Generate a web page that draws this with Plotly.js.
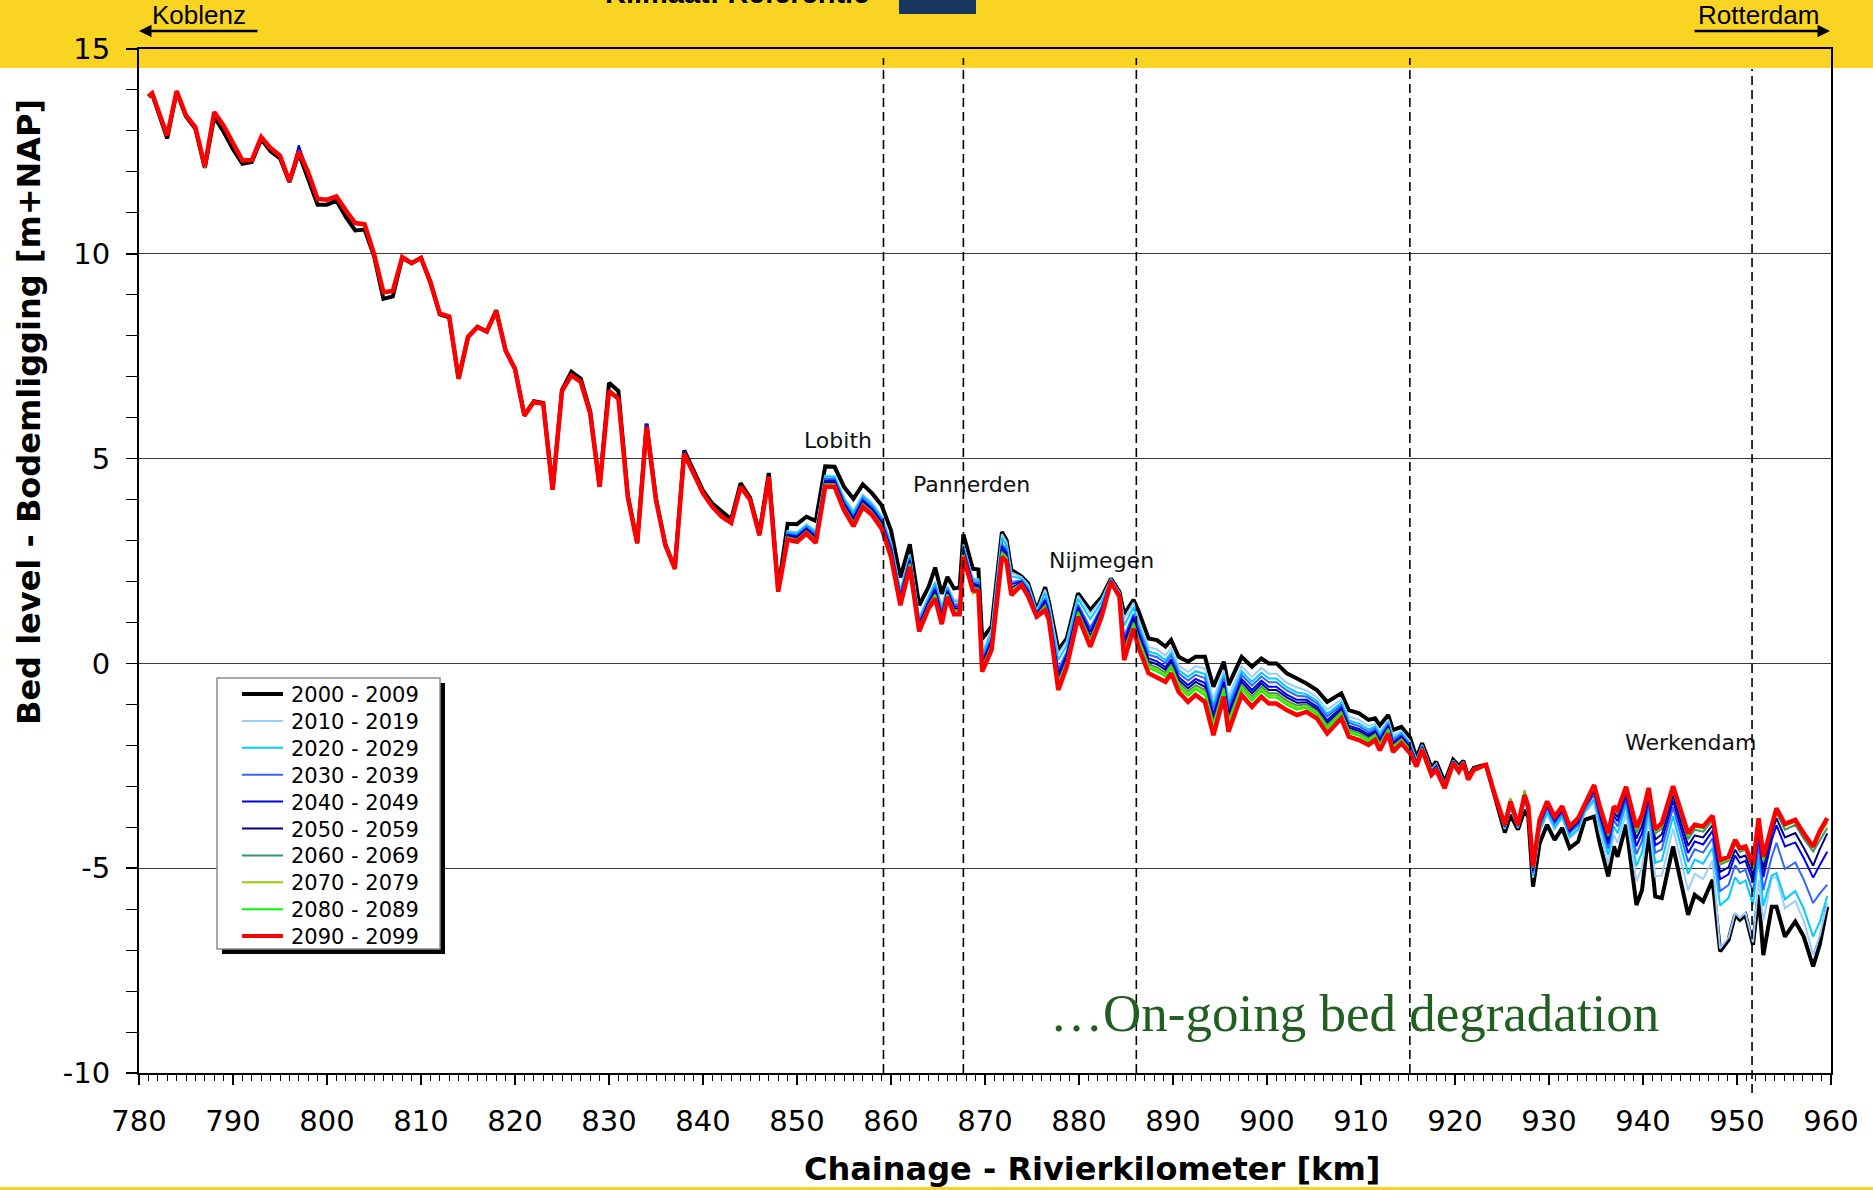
<!DOCTYPE html>
<html>
<head>
<meta charset="utf-8">
<script src="https://cdn.plot.ly/plotly-3.0.1.min.js"></script>
<style>
  html, body { margin: 0; padding: 0; background: #ffffff; }
  #chart { width: 1873px; height: 1190px; }
</style>
</head>
<body>
<div id="chart"></div>
<script>
// ---------------- DATA ----------------
const km = [781,781.4,783,784,785,786,787,788,789,790,791,792,793,794,795,796,797,798,799,800,801,802,803,804,805,806,807,808,809,810,811,812,813,814,815,816,817,818,819,820,821,822,823,824,825,
826,827,828,829,830,831,832,833,834,835,836,837,838,839,840,841,842,843,844,845,846,847,848,849,850,851,852,853,854,855,856,857,858,859,860,861,862,863,864,864.7,865.4,866,866.7,867.3,867.7,868.7,869.3,869.7,
870.7,871.8,872.3,872.8,873.9,874.6,875.5,876.4,876.8,877.8,878.7,879.9,881.2,882.4,883.4,884.3,884.8,885.8,
886.3,887.4,888.3,889.2,889.8,890.6,891.6,892.4,893.4,894.3,895.4,895.9,897.3,898.4,899.4,900.2,901.0,902.1,903.2,904.2,905.3,906.4,907.9,908.7,909.8,910.8,911.5,912.0,912.9,913.4,914.3,
915.2,915.9,916.5,917.5,918.0,918.9,919.8,920.4,920.9,921.4,922.0,922.8,923.3,924.3,
925.3,925.9,926.7,927.4,927.8,928.3,929.0,929.8,930.6,931.4,932.2,933.1,933.8,934.8,
935.4,936.3,936.9,937.3,938.2,939.3,939.9,940.6,941.3,942.0,943.2,944.8,945.5,946.4,947.4,
948.2,949.1,949.8,950.3,950.9,951.7,952.3,952.8,
953.7,954.2,955.1,956.2,957.1,958.1,958.8,959.6];

const bed2000 = [13.84,13.90,12.82,13.95,13.35,13.05,12.10,13.34,12.98,12.55,12.20,12.24,12.80,12.50,12.33,11.75,12.45,11.85,11.20,11.20,11.30,10.90,10.57,10.59,9.95,8.90,8.96,9.90,9.77,9.90,9.30,8.52,8.45,6.95,7.97,8.22,8.10,8.62,7.64,7.19,6.05,6.40,6.36,4.24,6.68,
7.12,6.95,6.15,4.31,6.85,6.65,4.10,2.95,5.85,4.02,2.90,2.33,5.20,4.70,4.22,3.90,3.70,3.52,4.40,4.05,3.18,4.65,1.80,3.41,3.40,3.58,3.48,4.81,4.80,4.31,4.02,4.37,4.15,3.86,3.25,2.10,2.91,1.42,1.87,2.34,1.70,2.11,1.83,1.85,3.15,2.31,2.29,0.60,
0.90,3.21,3.01,2.28,2.12,1.95,1.30,1.86,1.50,0.33,0.61,1.71,1.30,1.61,2.07,1.75,1.20,1.55,
1.30,0.61,0.57,0.41,0.57,0.16,0.04,0.16,0.16,-0.57,0.04,-0.53,0.16,-0.08,0.12,0.00,0.00,-0.24,-0.37,-0.49,-0.65,-0.94,-0.73,-1.14,-1.22,-1.38,-1.34,-1.51,-1.26,-1.63,-1.55,
-1.80,-2.30,-1.95,-2.55,-2.40,-2.90,-2.35,-2.50,-2.38,-2.78,-2.55,-2.50,-2.48,-3.30,
-4.13,-3.70,-4.06,-3.58,-3.75,-5.45,-4.39,-3.94,-4.31,-4.02,-4.51,-4.35,-3.82,-3.74,
-4.39,-5.20,-4.47,-4.72,-3.94,-5.90,-5.53,-4.10,-5.69,-5.73,-4.47,-6.14,-5.65,-5.81,-5.28,
-7.03,-6.75,-6.14,-6.26,-6.14,-6.87,-5.65,-7.12,
-5.94,-5.94,-6.67,-6.30,-6.67,-7.40,-6.87,-5.94];

const bed2010 = [13.84,13.92,12.89,13.97,13.38,13.09,12.13,13.46,13.13,12.70,12.28,12.29,12.85,12.58,12.40,11.77,12.50,11.99,11.34,11.32,11.40,11.06,10.75,10.72,10.00,9.06,9.09,9.92,9.77,9.90,9.31,8.54,8.47,6.95,7.97,8.21,8.11,8.60,7.64,7.19,6.05,6.38,6.34,4.24,6.65,
7.03,6.87,6.10,4.31,6.65,6.46,4.06,2.93,5.77,3.98,2.88,2.31,5.12,4.63,4.15,3.82,3.58,3.43,4.31,4.00,3.13,4.55,
1.78,3.23,3.21,3.40,3.24,4.58,4.58,4.05,3.72,4.12,3.91,3.60,2.96,1.79,2.66,1.13,1.63,2.00,1.37,1.89,1.55,1.56,2.90,2.08,2.05,0.24,
0.84,3.15,2.96,2.22,2.10,1.92,1.28,1.80,1.46,0.23,0.54,1.65,1.21,1.56,2.06,1.74,1.09,1.48,
1.08,0.40,0.34,0.19,0.37,-0.05,-0.21,-0.07,-0.12,-0.87,-0.17,-0.82,-0.07,-0.33,-0.11,-0.25,-0.25,-0.47,-0.59,-0.66,-0.82,-1.13,-0.88,-1.30,-1.38,-1.53,-1.47,-1.66,-1.37,-1.76,-1.65,
-1.90,-2.36,-1.99,-2.59,-2.45,-2.94,-2.37,-2.54,-2.40,-2.80,-2.56,-2.51,-2.48,-3.29,
-4.04,-3.55,-4.01,-3.41,-3.63,-5.23,-4.13,-3.68,-4.05,-3.78,-4.27,-4.09,-3.65,-3.39,
-4.12,-4.88,-4.18,-4.38,-3.66,-5.33,-4.98,-3.78,-5.20,-5.18,-4.03,-5.54,-5.14,-5.26,-4.81,
-6.96,-6.69,-6.09,-6.21,-6.09,-6.81,-5.28,-6.28,
-5.23,-5.22,-5.98,-5.80,-6.29,-7.11,-6.65,-5.85];

const bed2020 = [13.84,13.92,12.89,13.97,13.38,13.09,12.13,13.46,13.13,12.70,12.28,12.29,12.85,12.58,12.40,11.77,12.50,11.99,11.34,11.32,11.40,11.06,10.75,10.72,10.00,9.06,9.09,9.92,9.77,9.90,9.31,8.54,8.47,6.95,7.97,8.21,8.11,8.60,7.64,7.19,6.05,6.38,6.34,4.24,6.65,
7.03,6.87,6.10,4.31,6.65,6.46,4.06,2.93,5.77,3.98,2.88,2.31,5.12,4.63,4.15,3.82,3.58,3.43,4.31,4.00,3.13,4.55,
1.78,3.21,3.18,3.37,3.21,4.56,4.55,4.02,3.68,4.09,3.88,3.57,2.92,1.76,2.63,1.10,1.60,1.96,1.33,1.86,1.51,1.52,2.87,2.05,2.02,0.20,
0.76,3.06,2.88,2.13,2.07,1.87,1.26,1.72,1.39,0.08,0.44,1.57,1.08,1.49,2.05,1.72,0.92,1.37,
0.96,0.29,0.23,0.08,0.26,-0.16,-0.33,-0.19,-0.26,-1.02,-0.28,-0.96,-0.19,-0.45,-0.23,-0.37,-0.37,-0.58,-0.71,-0.75,-0.91,-1.23,-0.96,-1.39,-1.47,-1.61,-1.54,-1.74,-1.43,-1.83,-1.70,
-1.95,-2.38,-2.01,-2.61,-2.48,-2.96,-2.38,-2.55,-2.40,-2.80,-2.57,-2.51,-2.48,-3.28,
-4.03,-3.52,-3.99,-3.38,-3.61,-5.18,-4.08,-3.63,-4.00,-3.73,-4.22,-4.04,-3.62,-3.32,
-3.94,-4.67,-3.98,-4.15,-3.47,-4.95,-4.61,-3.57,-4.87,-4.81,-3.73,-5.14,-4.79,-4.89,-4.50,
-5.91,-5.73,-5.22,-5.38,-5.30,-5.89,-4.71,-5.92,
-5.18,-5.12,-5.76,-5.56,-5.99,-6.67,-6.32,-5.68];

const bed2030 = [13.84,13.92,12.89,13.97,13.38,13.09,12.13,13.46,13.13,12.70,12.28,12.29,12.85,12.58,12.40,11.77,12.60,11.99,11.34,11.32,11.40,11.06,10.75,10.72,10.00,9.06,9.09,9.92,9.77,9.90,9.31,8.54,8.47,6.95,7.97,8.21,8.11,8.60,7.64,7.19,6.05,6.38,6.34,4.24,6.65,
7.03,6.87,6.10,4.31,6.65,6.46,4.06,2.93,5.85,3.98,2.88,2.31,5.18,4.63,4.15,3.82,3.58,3.43,4.31,4.00,3.13,4.55,
1.77,3.17,3.13,3.33,3.15,4.50,4.50,3.96,3.60,4.03,3.82,3.51,2.85,1.68,2.57,1.02,1.54,1.87,1.24,1.81,1.44,1.45,2.81,1.99,1.96,0.10,
0.63,2.92,2.76,1.99,2.02,1.80,1.22,1.59,1.29,-0.14,0.28,1.44,0.87,1.38,2.03,1.69,0.66,1.21,
0.88,0.21,0.15,0.01,0.19,-0.24,-0.42,-0.28,-0.36,-1.12,-0.36,-1.07,-0.28,-0.54,-0.32,-0.46,-0.46,-0.66,-0.79,-0.81,-0.97,-1.30,-1.02,-1.45,-1.53,-1.67,-1.59,-1.80,-1.47,-1.88,-1.74,
-1.98,-2.40,-2.03,-2.63,-2.49,-2.97,-2.39,-2.57,-2.41,-2.81,-2.57,-2.51,-2.48,-3.28,
-4.00,-3.47,-3.98,-3.32,-3.57,-5.11,-3.99,-3.54,-3.91,-3.65,-4.14,-3.95,-3.56,-3.20,
-3.80,-4.52,-3.83,-3.98,-3.34,-4.66,-4.34,-3.41,-4.62,-4.54,-3.51,-4.85,-4.54,-4.62,-4.27,
-5.56,-5.41,-4.93,-5.10,-5.04,-5.58,-4.42,-5.54,
-4.72,-4.38,-5.02,-4.86,-5.28,-5.85,-5.62,-5.40];

const bed2040 = [13.84,13.92,12.89,13.97,13.38,13.09,12.13,13.46,13.13,12.70,12.28,12.29,12.85,12.58,12.40,11.77,12.65,11.99,11.34,11.32,11.40,11.06,10.75,10.72,10.00,9.06,9.09,9.92,9.77,9.90,9.31,8.54,8.47,6.95,7.97,8.21,8.11,8.60,7.64,7.19,6.05,6.38,6.34,4.24,6.65,
7.03,6.87,6.10,4.31,6.65,6.46,4.06,2.93,5.85,3.98,2.88,2.31,5.18,4.63,4.15,3.82,3.58,3.43,4.31,4.00,3.13,4.55,
1.77,3.14,3.10,3.29,3.10,4.46,4.46,3.91,3.55,3.98,3.78,3.46,2.79,1.62,2.52,0.97,1.50,1.81,1.18,1.77,1.39,1.39,2.76,1.95,1.91,0.04,
0.57,2.86,2.70,1.93,2.00,1.76,1.21,1.54,1.24,-0.24,0.21,1.38,0.78,1.34,2.02,1.68,0.55,1.14,
0.78,0.12,0.05,-0.09,0.10,-0.33,-0.53,-0.38,-0.48,-1.25,-0.45,-1.19,-0.38,-0.65,-0.42,-0.57,-0.57,-0.76,-0.89,-0.89,-1.05,-1.39,-1.08,-1.52,-1.60,-1.73,-1.65,-1.86,-1.52,-1.94,-1.78,
-2.03,-2.43,-2.04,-2.65,-2.52,-2.99,-2.40,-2.58,-2.41,-2.81,-2.58,-2.51,-2.48,-3.27,
-3.98,-3.44,-3.96,-3.28,-3.54,-5.06,-3.93,-3.48,-3.85,-3.60,-4.09,-3.89,-3.52,-3.12,
-3.71,-4.40,-3.73,-3.85,-3.23,-4.46,-4.14,-3.29,-4.44,-4.34,-3.35,-4.63,-4.35,-4.42,-4.09,
-5.27,-5.15,-4.69,-4.88,-4.82,-5.33,-4.17,-5.22,
-4.31,-3.95,-4.47,-4.37,-4.75,-5.23,-4.93,-4.60];

const bed2050 = [13.84,13.92,12.89,13.97,13.38,13.09,12.13,13.46,13.13,12.70,12.28,12.29,12.85,12.58,12.40,11.77,12.50,11.99,11.34,11.32,11.40,11.06,10.75,10.72,10.00,9.06,9.09,9.92,9.77,9.90,9.31,8.54,8.47,6.95,7.97,8.21,8.11,8.60,7.64,7.19,6.05,6.38,6.34,4.24,6.65,
7.03,6.87,6.10,4.31,6.65,6.46,4.06,2.93,5.77,3.98,2.88,2.31,5.12,4.63,4.15,3.82,3.58,3.43,4.31,4.00,3.13,4.55,
1.76,3.11,3.06,3.26,3.06,4.42,4.42,3.87,3.50,3.94,3.74,3.42,2.74,1.57,2.48,0.92,1.46,1.75,1.12,1.73,1.34,1.34,2.72,1.90,1.87,-0.02,
0.50,2.78,2.64,1.85,1.97,1.73,1.19,1.47,1.19,-0.36,0.13,1.31,0.68,1.28,2.01,1.67,0.42,1.06,
0.71,0.05,-0.02,-0.16,0.04,-0.40,-0.61,-0.45,-0.57,-1.35,-0.52,-1.28,-0.45,-0.73,-0.49,-0.65,-0.65,-0.83,-0.96,-0.95,-1.11,-1.45,-1.13,-1.57,-1.65,-1.78,-1.69,-1.91,-1.56,-1.98,-1.81,
-2.06,-2.45,-2.06,-2.66,-2.53,-3.00,-2.41,-2.59,-2.42,-2.82,-2.58,-2.51,-2.48,-3.27,
-3.96,-3.41,-3.96,-3.26,-3.52,-5.02,-3.89,-3.44,-3.81,-3.56,-4.05,-3.85,-3.50,-3.07,
-3.62,-4.31,-3.64,-3.75,-3.15,-4.28,-3.97,-3.20,-4.30,-4.17,-3.22,-4.45,-4.20,-4.25,-3.95,
-5.09,-4.98,-4.55,-4.74,-4.69,-5.17,-4.02,-5.03,
-4.14,-3.78,-4.25,-4.14,-4.50,-4.94,-4.54,-4.15];

const bed2060 = [13.84,13.92,12.89,13.97,13.38,13.09,12.13,13.46,13.13,12.70,12.28,12.29,12.85,12.58,12.40,11.77,12.50,11.99,11.34,11.32,11.40,11.06,10.75,10.72,10.00,9.06,9.09,9.92,9.77,9.90,9.31,8.54,8.47,6.95,7.97,8.21,8.11,8.60,7.64,7.19,6.05,6.38,6.34,4.24,6.65,
7.03,6.87,6.10,4.31,6.65,6.46,4.06,2.93,5.77,3.98,2.88,2.31,5.12,4.63,4.15,3.82,3.58,3.43,4.31,4.00,3.13,4.55,
1.76,3.08,3.03,3.23,3.02,4.38,4.38,3.83,3.45,3.90,3.70,3.38,2.70,1.52,2.44,0.88,1.42,1.69,1.07,1.69,1.29,1.30,2.68,1.87,1.83,-0.08,
0.46,2.73,2.60,1.80,1.96,1.70,1.18,1.42,1.16,-0.43,0.07,1.27,0.61,1.24,2.01,1.66,0.33,1.00,
0.64,-0.02,-0.10,-0.23,-0.03,-0.47,-0.69,-0.53,-0.65,-1.44,-0.59,-1.37,-0.53,-0.81,-0.57,-0.73,-0.73,-0.91,-1.03,-1.00,-1.16,-1.51,-1.18,-1.62,-1.70,-1.83,-1.73,-1.96,-1.59,-2.02,-1.85,
-2.09,-2.46,-2.07,-2.68,-2.55,-3.01,-2.42,-2.60,-2.42,-2.82,-2.59,-2.51,-2.48,-3.26,
-3.95,-3.30,-3.95,-3.10,-3.51,-4.99,-3.85,-3.40,-3.77,-3.52,-4.01,-3.81,-3.47,-3.02,
-3.55,-4.22,-3.56,-3.66,-3.08,-4.13,-3.83,-3.11,-4.16,-4.03,-3.10,-4.29,-4.06,-4.11,-3.83,
-4.91,-4.82,-4.40,-4.60,-4.55,-5.02,-3.87,-4.84,
-4.00,-3.64,-4.06,-3.94,-4.28,-4.59,-4.32,-4.02];

const bed2070 = [13.84,13.92,12.89,13.97,13.38,13.09,12.13,13.46,13.13,12.70,12.28,12.29,12.85,12.58,12.40,11.77,12.50,11.99,11.34,11.32,11.40,11.06,10.75,10.72,10.00,9.06,9.09,9.92,9.77,9.90,9.31,8.54,8.47,6.95,7.97,8.21,8.11,8.60,7.64,7.19,6.05,6.38,6.34,4.24,6.65,
7.03,6.87,6.10,4.31,6.65,6.46,4.06,2.93,5.77,3.98,2.88,2.31,5.12,4.63,4.15,3.82,3.58,3.43,4.31,4.00,3.13,4.55,
1.76,3.06,3.01,3.21,2.99,4.36,4.36,3.80,3.42,3.87,3.67,3.35,2.66,1.49,2.41,0.84,1.39,1.66,1.03,1.67,1.26,1.26,2.65,1.70,1.80,-0.12,
0.42,2.69,2.56,1.76,1.94,1.68,1.16,1.38,1.13,-0.50,0.02,1.23,0.54,1.21,2.00,1.65,0.25,0.95,
0.59,-0.07,-0.15,-0.28,-0.08,-0.52,-0.74,-0.58,-0.72,-1.51,-0.64,-1.44,-0.58,-0.86,-0.62,-0.78,-0.78,-0.96,-1.08,-1.04,-1.20,-1.56,-1.22,-1.66,-1.74,-1.87,-1.76,-2.00,-1.62,-2.05,-1.87,
-2.11,-2.48,-2.08,-2.69,-2.56,-3.02,-2.42,-2.61,-2.43,-2.83,-2.59,-2.51,-2.48,-3.26,
-3.95,-3.30,-3.94,-3.12,-3.50,-4.97,-3.84,-3.39,-3.76,-3.51,-4.00,-3.80,-3.46,-2.99,
-3.52,-4.18,-3.52,-3.61,-3.04,-4.06,-3.75,-3.07,-4.10,-3.95,-3.04,-4.21,-3.99,-4.03,-3.77,
-4.87,-4.78,-4.36,-4.56,-4.52,-4.98,-3.84,-4.79,
-3.94,-3.59,-3.97,-3.87,-4.20,-4.50,-4.18,-3.89];

const bed2080 = [13.84,13.92,12.89,13.97,13.38,13.09,12.10,13.46,13.13,12.70,12.28,12.29,12.85,12.58,12.40,11.77,12.50,11.99,11.34,11.32,11.40,11.06,10.75,10.72,10.00,9.06,9.09,9.92,9.77,9.90,9.31,8.54,8.47,6.95,7.97,8.21,8.11,8.60,7.64,7.19,6.05,6.38,6.34,4.24,6.65,
7.03,6.87,6.10,4.31,6.65,6.46,4.06,2.93,5.77,3.98,2.88,2.28,5.12,4.63,4.15,3.82,3.58,3.43,4.31,4.00,3.13,4.55,
1.75,3.04,3.00,3.19,2.97,4.34,4.34,3.77,3.39,3.85,3.65,3.32,2.64,1.46,2.39,0.82,1.37,1.63,1.00,1.65,1.24,1.24,2.63,1.82,1.78,-0.15,
0.39,2.66,2.53,1.73,1.93,1.66,1.16,1.36,1.10,-0.55,-0.01,1.20,0.50,1.19,2.00,1.64,0.19,0.92,
0.54,-0.11,-0.20,-0.32,-0.12,-0.56,-0.79,-0.63,-0.78,-1.57,-0.68,-1.50,-0.63,-0.91,-0.67,-0.83,-0.83,-1.01,-1.13,-1.08,-1.24,-1.59,-1.25,-1.69,-1.77,-1.90,-1.79,-2.03,-1.64,-2.08,-1.89,
-2.13,-2.49,-2.09,-2.69,-2.57,-3.03,-2.43,-2.62,-2.43,-2.83,-2.59,-2.51,-2.48,-3.26,
-3.94,-3.32,-3.94,-3.15,-3.49,-4.96,-3.83,-3.38,-3.75,-3.50,-3.99,-3.79,-3.45,-2.98,
-3.51,-4.17,-3.51,-3.60,-3.03,-4.04,-3.74,-3.06,-4.08,-3.94,-3.03,-4.19,-3.97,-4.02,-3.75,
-4.84,-4.76,-4.35,-4.54,-4.50,-4.96,-3.82,-4.77,
-3.92,-3.56,-3.95,-3.84,-4.18,-4.47,-4.13,-3.84];

const bed2090 = [13.84,13.92,12.89,13.97,13.38,13.09,12.13,13.46,13.13,12.70,12.28,12.29,12.85,12.58,12.40,11.77,12.50,11.99,11.34,11.32,11.40,11.06,10.75,10.72,10.00,9.06,9.09,9.92,9.77,9.90,9.31,8.54,8.47,6.95,7.97,8.21,8.11,8.60,7.64,7.19,6.05,6.38,6.34,4.24,6.65,
7.03,6.87,6.10,4.31,6.65,6.46,4.06,2.93,5.77,3.98,2.88,2.31,5.12,4.63,4.15,3.82,3.58,3.43,4.31,4.00,3.13,4.55,1.75,3.02,2.97,3.17,2.94,4.31,4.31,3.74,3.35,3.82,3.62,3.29,2.60,1.42,2.36,0.78,1.34,1.58,0.96,1.62,1.20,1.20,2.60,1.79,1.75,-0.20,
0.33,2.60,2.48,1.67,1.91,1.63,1.14,1.30,1.06,-0.65,-0.08,1.14,0.41,1.14,1.99,1.63,0.08,0.85,
0.41,-0.24,-0.33,-0.45,-0.24,-0.69,-0.94,-0.77,-0.94,-1.75,-0.81,-1.67,-0.77,-1.06,-0.81,-0.98,-0.98,-1.14,-1.26,-1.18,-1.34,-1.71,-1.34,-1.79,-1.87,-1.99,-1.87,-2.12,-1.71,-2.16,-1.95,
-2.19,-2.52,-2.11,-2.72,-2.60,-3.05,-2.44,-2.64,-2.44,-2.84,-2.60,-2.52,-2.48,-3.25,
-3.94,-3.37,-3.94,-3.21,-3.49,-4.96,-3.82,-3.37,-3.74,-3.49,-3.98,-3.78,-3.45,-2.97,
-3.49,-4.15,-3.49,-3.58,-3.01,-4.00,-3.70,-3.04,-4.05,-3.90,-3.00,-4.15,-3.94,-3.98,-3.72,
-4.80,-4.72,-4.31,-4.51,-4.47,-4.92,-3.78,-4.72,
-3.90,-3.54,-3.92,-3.82,-4.15,-4.47,-4.10,-3.78];

const seriesNames = ['2000 - 2009','2010 - 2019','2020 - 2029','2030 - 2039','2040 - 2049',
                     '2050 - 2059','2060 - 2069','2070 - 2079','2080 - 2089','2090 - 2099'];
const seriesValues = [bed2000, bed2010, bed2020, bed2030, bed2040, bed2050, bed2060, bed2070, bed2080, bed2090];
const seriesColors = ['#000000','#99ccff','#00ccff','#3366ff','#0000ff','#000080','#339966','#99cc00','#00ff00','#ff0000'];
const seriesWidths = [4, 2, 2, 2, 2, 2, 2, 2, 2, 4.5];

const markerKm = [859.2, 867.7, 886.1, 915.2, 951.6];          // dashed reference lines
const placeNames = ['Lobith', 'Pannerden', 'Nijmegen', 'Werkendam'];
const xTickVals = [780,790,800,810,820,830,840,850,860,870,880,890,900,910,920,930,940,950,960];
const yTickVals = [-10, -5, 0, 5, 10, 15];
const yTickText = ['-10', '-5', '0', '5', '10', '15'];

// ---------------- LAYOUT HELPERS (pixel -> paper) ----------------
const W = 1873, H = 1190, ML = 139, MR = 42, MT = 49, MB = 117;
const PW = W - ML - MR, PH = H - MT - MB;
const px = p => (p - ML) / PW;
const py = p => (H - MB - p) / PH;

const traces = seriesValues.map((vals, i) => ({
  type: 'scatter', mode: 'lines', x: km, y: vals, name: seriesNames[i],
  line: { color: seriesColors[i], width: seriesWidths[i] },
  hoverinfo: 'skip', showlegend: false
}));

const shapes = [
  // top yellow band
  { type: 'rect', xref: 'paper', yref: 'paper', x0: px(0), x1: px(W), y0: py(68), y1: py(-2),
    fillcolor: '#f9d423', line: { width: 0 }, layer: 'below' },
  // bottom yellow strip
  { type: 'rect', xref: 'paper', yref: 'paper', x0: px(0), x1: px(W), y0: py(H + 2), y1: py(1187),
    fillcolor: '#f9d423', line: { width: 0 }, layer: 'below' },
  // dark block next to the (cut-off) title
  { type: 'rect', xref: 'paper', yref: 'paper', x0: px(899), x1: px(976), y0: py(14), y1: py(-2),
    fillcolor: '#17375e', line: { width: 0 }, layer: 'above' }
];
markerKm.forEach((k, i) => {
  const last = i === markerKm.length - 1;
  shapes.push({ type: 'line', xref: 'x', yref: 'paper', x0: k, x1: k,
    y0: py(last ? 1093 : 1073), y1: py(last ? 69 : 58),
    line: { color: '#000', width: 1.6, dash: '9px,5px' }, layer: 'above' });
});

// ---------------- LEGEND (box with drop shadow, drawn in page pixels) ----------------
const LEG = { left: 217, top: 678, right: 440, bottom: 949, row0: 694, rowStep: 26.9, lineX0: 242, lineX1: 283, textX: 289 };
shapes.push(
  { type: 'rect', xref: 'paper', yref: 'paper', x0: px(LEG.left + 5), x1: px(LEG.right + 5),
    y0: py(LEG.bottom + 5), y1: py(LEG.top + 5), fillcolor: '#000', line: { width: 0 }, layer: 'above' },
  { type: 'rect', xref: 'paper', yref: 'paper', x0: px(LEG.left), x1: px(LEG.right),
    y0: py(LEG.bottom), y1: py(LEG.top), fillcolor: '#fff', line: { color: '#8c8c8c', width: 1.5 }, layer: 'above' }
);
seriesNames.forEach((name, i) => {
  const yc = LEG.row0 + i * LEG.rowStep;
  shapes.push({ type: 'line', xref: 'paper', yref: 'paper', x0: px(LEG.lineX0), x1: px(LEG.lineX1),
    y0: py(yc), y1: py(yc), line: { color: seriesColors[i], width: Math.min(seriesWidths[i], 4) }, layer: 'above' });
});

const placeFont = { family: 'DejaVu Sans, Verdana, sans-serif', size: 22, color: '#111' };
const placePos = [[838, 440], [971, 484], [1101, 560], [1690, 742]];
const annotations = placeNames.map((t, i) => ({
  text: t, xref: 'paper', yref: 'paper', x: px(placePos[i][0]), y: py(placePos[i][1]),
  xanchor: 'center', yanchor: 'middle', showarrow: false, font: placeFont
}));
seriesNames.forEach((name, i) => {
  annotations.push({ text: name, xref: 'paper', yref: 'paper', x: px(LEG.textX), y: py(LEG.row0 + i * LEG.rowStep + 1),
    xanchor: 'left', yanchor: 'middle', showarrow: false,
    font: { family: 'DejaVu Sans, Verdana, sans-serif', size: 21, color: '#000' } });
});
const axisTitleFont = { family: 'DejaVu Sans, Verdana, sans-serif', size: 32, color: '#000', weight: 'bold' };
annotations.push(
  { text: '<b>Chainage - Rivierkilometer [km]</b>', xref: 'paper', yref: 'paper', x: px(1092), y: py(1169),
    xanchor: 'center', yanchor: 'middle', showarrow: false, font: axisTitleFont },
  { text: '<b>Bed level - Bodemligging [m+NAP]</b>', xref: 'paper', yref: 'paper', x: px(29), y: py(412),
    xanchor: 'center', yanchor: 'middle', showarrow: false, textangle: -90, font: axisTitleFont },
  { text: '…On-going bed degradation', xref: 'paper', yref: 'paper', x: px(1354), y: py(1013),
    xanchor: 'center', yanchor: 'middle', showarrow: false,
    font: { family: 'Liberation Serif, Times New Roman, serif', size: 53, color: '#215f21' } },
  { text: '<b>Klimaat: Referentie</b>', xref: 'paper', yref: 'paper', x: px(737), y: py(-7),
    xanchor: 'center', yanchor: 'middle', showarrow: false,
    font: { family: 'Liberation Sans, Arial, sans-serif', size: 29, color: '#000' } },
  { text: 'Koblenz', xref: 'paper', yref: 'paper', x: px(199), y: py(15),
    xanchor: 'center', yanchor: 'middle', showarrow: false,
    font: { family: 'Liberation Sans, Arial, sans-serif', size: 26, color: '#000' } },
  { text: 'Rotterdam', xref: 'paper', yref: 'paper', x: px(1758), y: py(15),
    xanchor: 'center', yanchor: 'middle', showarrow: false,
    font: { family: 'Liberation Sans, Arial, sans-serif', size: 26, color: '#000' } },
  { text: '', xref: 'paper', yref: 'paper', x: px(139), y: py(31), ax: 120, ay: 0,
    showarrow: true, arrowhead: 2, arrowsize: 1, arrowwidth: 2.5, arrowcolor: '#000' },
  { text: '', xref: 'paper', yref: 'paper', x: px(1830), y: py(31), ax: -137, ay: 0,
    showarrow: true, arrowhead: 2, arrowsize: 1, arrowwidth: 2.5, arrowcolor: '#000' }
);

const tickFont = { family: 'DejaVu Sans, Verdana, sans-serif', size: 29, color: '#000' };

const layout = {
  width: W, height: H,
  margin: { l: ML, r: MR, t: MT, b: MB, pad: 0 },
  paper_bgcolor: '#ffffff', plot_bgcolor: 'rgba(0,0,0,0)',
  showlegend: false,
  xaxis: {
    range: [780, 960], tickmode: 'array', tickvals: xTickVals,
    ticks: 'outside', ticklen: 10, tickwidth: 1.5, tickcolor: '#000',
    tickfont: tickFont, ticklabelstandoff: 11,
    showline: true, linecolor: '#000', linewidth: 2, mirror: true,
    showgrid: false, zeroline: false,
    minor: { dtick: 1, tick0: 780, ticks: 'outside', ticklen: 6, tickwidth: 1, tickcolor: '#000', showgrid: false }
  },
  yaxis: {
    range: [-10, 15], tickmode: 'array', tickvals: yTickVals, ticktext: yTickText,
    ticks: 'outside', ticklen: 11, tickwidth: 1.5, tickcolor: '#000',
    tickfont: tickFont, ticklabelstandoff: 10,
    showline: true, linecolor: '#000', linewidth: 2, mirror: true,
    showgrid: true, gridcolor: '#3a3a3a', gridwidth: 1.3, zeroline: false,
    minor: { dtick: 1, tick0: -10, ticks: 'outside', ticklen: 11, tickwidth: 1, tickcolor: '#000', showgrid: false }
  },
  shapes: shapes,
  annotations: annotations,
  hovermode: false
};

Plotly.newPlot('chart', traces, layout, { staticPlot: true, displayModeBar: false });
</script>
</body>
</html>
